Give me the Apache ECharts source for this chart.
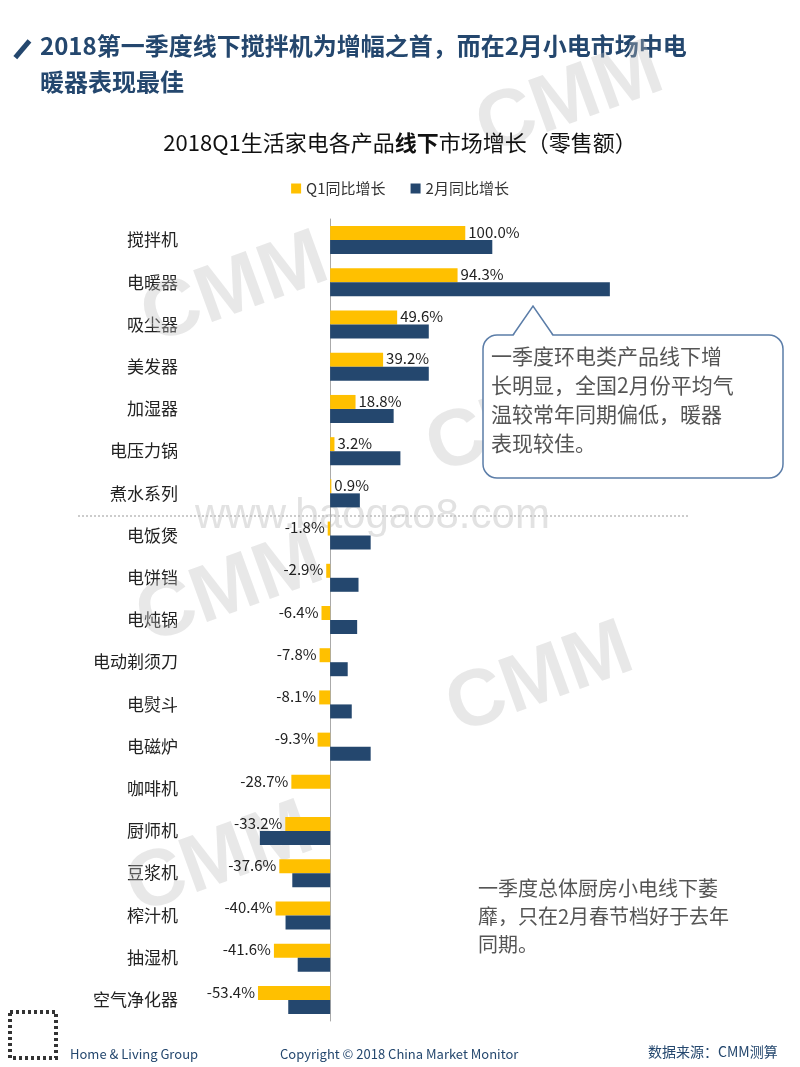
<!DOCTYPE html>
<html><head><meta charset="utf-8">
<script src="https://cdn.jsdelivr.net/npm/echarts@6/dist/echarts.min.js"></script>
<style>html,body{margin:0;padding:0;background:#fff}#c{width:800px;height:1067px}</style>
</head><body><div id="c"></div>
<script>
const categories=['搅拌机','电暖器','吸尘器','美发器','加湿器','电压力锅','煮水系列','电饭煲','电饼铛','电炖锅','电动剃须刀','电熨斗','电磁炉','咖啡机','厨师机','豆浆机','榨汁机','抽湿机','空气净化器'];
const q1Growth=[100.0,94.3,49.6,39.2,18.8,3.2,0.9,-1.8,-2.9,-6.4,-7.8,-8.1,-9.3,-28.7,-33.2,-37.6,-40.4,-41.6,-53.4];
const febGrowth=[120,207,73,73,47,52,22,30,21,20,13,16,30,0,-52,-28,-33,-24,-31];
const seriesNames=['Q1同比增长','2月同比增长'];
const chart=echarts.init(document.getElementById('c'));
const F='"Noto Sans CJK SC","Noto Sans",sans-serif';
const wm=(x,y)=>({type:'text',x:x,y:y,rotation:0.35,style:{text:'CMM',x:0,y:0,align:'center',verticalAlign:'middle',font:'bold 80px sans-serif',fill:'rgba(190,190,190,0.35)'}});
chart.setOption({
 textStyle:{fontFamily:F},
 title:{text:'2018Q1生活家电各产品{b|线下}市场增长（零售额）',left:'center',top:127,
  textStyle:{fontSize:22,fontWeight:'normal',color:'#111',fontFamily:F,rich:{b:{fontSize:22,fontWeight:'bold',color:'#111',fontFamily:F}}}},
 legend:{top:176,left:'center',itemWidth:10,itemHeight:10,itemGap:25,icon:'rect',textStyle:{fontSize:15,color:'#333'}},
 grid:{left:195,right:105,top:219,bottom:46},
 xAxis:{type:'value',min:-100,max:270,show:false},
 yAxis:{type:'category',data:categories,inverse:true,axisTick:{show:false},
  axisLine:{onZero:true,lineStyle:{color:'#aaa'}},
  axisLabel:{show:false}},
 series:[
  {name:seriesNames[0],type:'bar',data:q1Growth.map(v=>({value:v,label:{position:v>=0?'right':'left'}})),barWidth:14,barGap:'0%',
   itemStyle:{color:'#FFC000'},label:{show:true,formatter:p=>p.value.toFixed(1)+'%',fontSize:15,color:'#222',distance:3,offset:[0,-1]}},
  {name:seriesNames[1],type:'bar',data:febGrowth,barWidth:14,itemStyle:{color:'#24476E'}}
 ],
 graphic:[
  {type:'rect',shape:{x:20,y:38,width:5,height:22},style:{fill:'#24476E'},rotation:-0.7,originX:22,originY:49},
  {type:'text',left:40,top:28,style:{text:'2018第一季度线下搅拌机为增幅之首，而在2月小电市场中电\n暖器表现最佳',font:'bold 24px '+F,fill:'#24476E',lineHeight:36}},
  ...categories.map((c,i)=>({type:'text',style:{text:c,x:178,y:240+i*42.2,align:'right',verticalAlign:'middle',font:'17px '+F,fill:'#222'}})),
  {type:'line',shape:{x1:78,y1:516,x2:690,y2:516},style:{stroke:'#999',lineDash:[2,2],lineWidth:1}},
  wm(235,290),wm(570,100),wm(520,420),wm(230,590),wm(540,680),wm(220,860),
  {type:'text',style:{text:'www.baogao8.com',x:195,y:495,font:'42px sans-serif',fill:'rgba(190,190,190,0.45)'}},
  {type:'rect',shape:{x:483,y:335,width:300,height:143,r:14},style:{fill:'#fff',stroke:'#5B7DA8',lineWidth:1.5}},
  {type:'polygon',shape:{points:[[513,336.5],[533,306],[553,336.5]]},style:{fill:'#fff'}},
  {type:'polyline',shape:{points:[[513,335],[533,306],[553,335]]},style:{stroke:'#5B7DA8',lineWidth:1.5,fill:null}},
  {type:'text',style:{text:'一季度环电类产品线下增\n长明显，全国2月份平均气\n温较常年同期偏低，暖器\n表现较佳。',x:491,y:342,font:'21px '+F,fill:'#555',lineHeight:29}},
  {type:'text',style:{text:'一季度总体厨房小电线下萎\n靡，只在2月春节档好于去年\n同期。',x:478,y:874,font:'20px '+F,fill:'#555',lineHeight:28}},
  {type:'rect',shape:{x:10,y:1012,width:46,height:46},style:{fill:'none',stroke:'#333',lineWidth:4,lineDash:[3,3]}},
  {type:'text',style:{text:'Home & Living Group',x:70,y:1048,font:'13px '+F,fill:'#24476E'}},
  {type:'text',style:{text:'Copyright © 2018 China Market Monitor',x:280,y:1048,font:'13px '+F,fill:'#24476E'}},
  {type:'text',style:{text:'数据来源：CMM测算',x:648,y:1045,font:'14px '+F,fill:'#24476E'}}
 ]
});
</script></body></html>
